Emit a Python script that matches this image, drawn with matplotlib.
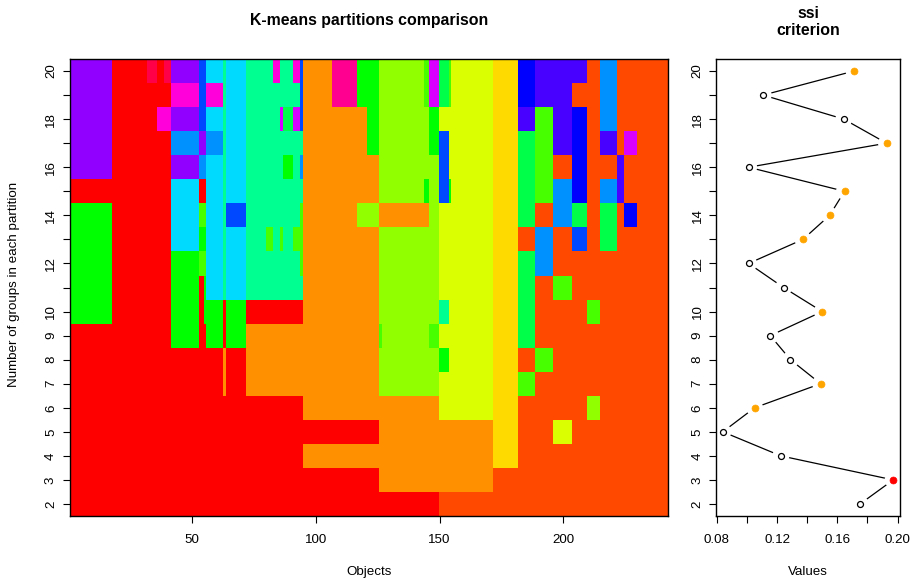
import colorsys
import numpy as np
import matplotlib
matplotlib.use("Agg")
import matplotlib.pyplot as plt
from matplotlib.colors import ListedColormap

plt.rcParams["font.family"] = ["Liberation Sans", "DejaVu Sans"]

# ---------------------------------------------------------------- data
n_objects = 242
k_values = list(range(2, 21))

# group codes -> colour of a 21-hue rainbow palette
(R, OR, O, Y, YG, CH, G6, G, SG, AQ, AQ2, CY, AZ, B13, B14,
 V, P, M, PK, DP, CR) = range(21)

# each partition as runs: (first object of the run, group code)
partitions = {
    20: [(1, P), (18, R), (32, CR), (36, R), (39, CR), (42, P), (53, B13), (56, CY),
         (63, AQ), (64, CY), (72, AQ), (83, PK), (86, AQ), (91, PK), (94, B13), (95, O),
         (107, DP), (117, G), (126, CH), (144, G6), (146, M), (150, SG), (154, G6),
         (155, YG), (172, Y), (182, B14), (189, V), (210, OR), (215, AZ), (222, OR)],
    19: [(1, P), (18, R), (42, PK), (53, B13), (56, PK), (63, AQ), (64, CY), (72, AQ),
         (94, B13), (95, O), (107, DP), (117, G), (126, CH), (144, G6), (146, M),
         (150, SG), (154, G6), (155, YG), (172, Y), (182, B14), (189, V), (204, OR),
         (215, AZ), (222, OR)],
    18: [(1, P), (18, R), (36, PK), (42, P), (53, B13), (56, CY), (63, AQ), (64, CY),
         (72, AQ), (86, M), (87, SG), (91, M), (94, B13), (95, O), (121, G), (126, CH),
         (146, G), (150, YG), (172, Y), (182, V), (189, G6), (196, V), (204, B14),
         (210, OR), (215, AZ), (222, OR)],
    17: [(1, P), (18, R), (42, AZ), (53, P), (56, AZ), (63, AQ), (64, CY), (72, AQ),
         (95, O), (121, G), (126, CH), (146, G), (150, B13), (154, YG), (172, Y),
         (182, SG), (189, G6), (196, V), (204, B14), (210, OR), (215, V), (222, OR),
         (225, M), (230, OR)],
    16: [(1, P), (18, R), (42, P), (53, AZ), (56, CY), (63, AQ), (64, CY), (72, AQ),
         (87, G), (91, AQ), (94, AZ), (95, O), (126, CH), (150, B13), (154, YG),
         (172, Y), (182, SG), (189, G6), (196, OR), (204, B14), (210, OR), (222, V),
         (225, OR)],
    15: [(1, R), (42, CY), (53, R), (56, CY), (63, AQ), (64, CY), (72, AQ), (95, O),
         (126, CH), (144, G), (146, CH), (150, B13), (154, G), (155, YG), (172, Y),
         (182, SG), (189, G6), (196, AZ), (204, B14), (210, OR), (215, AZ), (222, V),
         (225, OR)],
    14: [(1, G), (18, R), (42, CY), (53, G6), (56, CY), (63, AQ), (64, B13), (72, AQ),
         (94, G6), (95, O), (117, CH), (126, O), (146, CH), (150, YG), (172, Y),
         (182, SG), (189, OR), (196, AZ), (204, SG), (210, OR), (215, SG), (222, OR),
         (225, B14), (230, OR)],
    13: [(1, G), (18, R), (42, CY), (53, G), (56, CY), (63, AQ), (64, CY), (72, AQ),
         (80, G6), (83, AQ), (86, G6), (87, AQ), (91, G6), (95, O), (126, CH),
         (150, YG), (172, Y), (182, OR), (189, AZ), (196, OR), (204, B13), (210, OR),
         (215, SG), (222, OR)],
    12: [(1, G), (18, R), (42, G), (53, G6), (56, CY), (63, AQ), (64, CY), (72, AQ),
         (94, G6), (95, O), (126, CH), (150, YG), (172, Y), (182, SG), (189, AZ),
         (196, OR)],
    11: [(1, G), (18, R), (42, G), (53, R), (55, G), (56, CY), (63, AQ), (64, CY),
         (72, AQ), (95, O), (126, CH), (150, YG), (172, Y), (182, SG), (189, OR),
         (196, G6), (204, OR)],
    10: [(1, G), (18, R), (42, G), (53, R), (55, G), (63, R), (64, G), (72, R), (95, O),
         (126, CH), (150, AQ), (154, YG), (172, Y), (182, SG), (189, OR), (210, G6),
         (215, OR)],
    9: [(1, R), (42, G), (53, R), (56, G), (63, R), (64, G), (72, O), (126, G6),
        (127, CH), (146, G6), (150, YG), (172, Y), (182, SG), (189, OR)],
    8: [(1, R), (63, O), (64, R), (72, O), (126, CH), (150, G), (154, YG), (172, Y),
        (182, OR), (189, G6), (196, OR)],
    7: [(1, R), (63, O), (64, R), (72, O), (126, CH), (150, YG), (172, Y), (182, G6),
        (189, OR)],
    6: [(1, R), (95, O), (150, YG), (172, Y), (182, OR), (210, CH), (215, OR)],
    5: [(1, R), (126, O), (172, Y), (182, OR), (196, YG), (204, OR)],
    4: [(1, R), (95, O), (172, Y), (182, OR)],
    3: [(1, R), (126, O), (172, OR)],
    2: [(1, R), (150, OR)],
}

# ssi criterion for each number of groups (K = 2 .. 20)
ssi = [0.1751, 0.1971, 0.1225, 0.0840, 0.1051, 0.1489, 0.1289, 0.1155, 0.1500,
       0.1243, 0.1011, 0.1372, 0.1549, 0.1648, 0.1011, 0.1927, 0.1643, 0.1108,
       0.1711]

x_ticks = [50, 100, 150, 200]
y_tick_labels = ["2", "3", "4", "5", "6", "7", "8", "9", "10", "", "12", "", "14",
                 "", "16", "", "18", "", "20"]
ssi_ticks = [0.08, 0.10, 0.12, 0.14, 0.16, 0.18, 0.20]
ssi_tick_labels = ["0.08", "", "0.12", "", "0.16", "", "0.20"]

# ---------------------------------------------------------------- build matrix
palette = [colorsys.hsv_to_rgb(i / 21, 1, 1) for i in range(21)]
cmap = ListedColormap(palette)

grid = np.zeros((len(k_values), n_objects), dtype=int)
for row, k in enumerate(k_values):
    runs = partitions[k]
    for j, (start, code) in enumerate(runs):
        stop = runs[j + 1][0] if j + 1 < len(runs) else n_objects + 1
        grid[row, start - 1:stop - 1] = code

# ---------------------------------------------------------------- figure
W, H = 911, 580
fig = plt.figure(figsize=(W / 100, H / 100), dpi=100)

def fig_rect(x0, y0, x1, y1):
    return [x0 / W, 1 - y1 / H, (x1 - x0) / W, (y1 - y0) / H]

ax = fig.add_axes(fig_rect(69.5, 59, 668.5, 516))
ax2 = fig.add_axes(fig_rect(716, 59, 900, 516))

tick_font = 9.6
title_font = 11.4

ax.imshow(grid, cmap=cmap, vmin=-0.5, vmax=20.5, origin="lower", aspect="auto",
          interpolation="nearest",
          extent=(0.5, n_objects + 0.5, k_values[0] - 0.5, k_values[-1] + 0.5))
ax.set_xlim(0.5, n_objects + 0.5)
ax.set_ylim(k_values[0] - 0.5, k_values[-1] + 0.5)
ax.set_xticks(x_ticks)
ax.set_xticklabels([str(t) for t in x_ticks])
ax.set_yticks(k_values)
ax.set_yticklabels(y_tick_labels)

# ssi panel
ks = np.array(k_values)
vals = np.array(ssi)
best = int(np.argmax(vals))
face = []
for i, v in enumerate(vals):
    if i == best:
        face.append("red")
    elif i > 0 and v > vals[i - 1]:
        face.append("orange")
    else:
        face.append("white")

ax2.plot(vals, ks, color="black", lw=0.9, zorder=1.5)
ax2.scatter(vals, ks, s=150, color="white", edgecolors="none", zorder=1.8)
for v, k, f in zip(vals, ks, face):
    if f == "white":
        ax2.plot(v, k, "o", ms=4.3, mfc="white", mec="black", mew=0.9, zorder=3)
    else:
        ax2.plot(v, k, "o", ms=5.0, mfc=f, mec=f, mew=0.5, zorder=3)

span = vals.max() - vals.min()
ax2.set_xlim(vals.min() - 0.04 * span, vals.max() + 0.04 * span)
ax2.set_ylim(k_values[0] - 0.5, k_values[-1] + 0.5)
ax2.set_xticks(ssi_ticks)
ax2.set_xticklabels(ssi_tick_labels)
ax2.set_yticks(k_values)
ax2.set_yticklabels(y_tick_labels)

for a in (ax, ax2):
    a.tick_params(direction="out", length=5, width=0.8, labelsize=tick_font,
                  color="black")
    a.tick_params(axis="x", pad=8)
    a.tick_params(axis="y", pad=4)
    for lab in a.get_yticklabels():
        lab.set_rotation(90)
        lab.set_va("center")
    for s in a.spines.values():
        s.set_linewidth(1.0)
        s.set_color("black")

fig.text(368.9 / W, 1 - 20 / H, "K-means partitions comparison", ha="center",
         va="center", fontsize=title_font, fontweight="bold")
fig.text(808 / W, 1 - 22 / H, "ssi\ncriterion", ha="center", va="center",
         fontsize=title_font, fontweight="bold", linespacing=1.2)
fig.text(368.9 / W, 1 - 572 / H, "Objects", ha="center", va="center",
         fontsize=tick_font)
fig.text(808 / W, 1 - 572 / H, "Values", ha="center", va="center",
         fontsize=tick_font)
fig.text(14 / W, 1 - 284 / H, "Number of groups in each partition", ha="center",
         va="center", rotation=90, fontsize=tick_font)

fig.savefig("out.png", dpi=100)
